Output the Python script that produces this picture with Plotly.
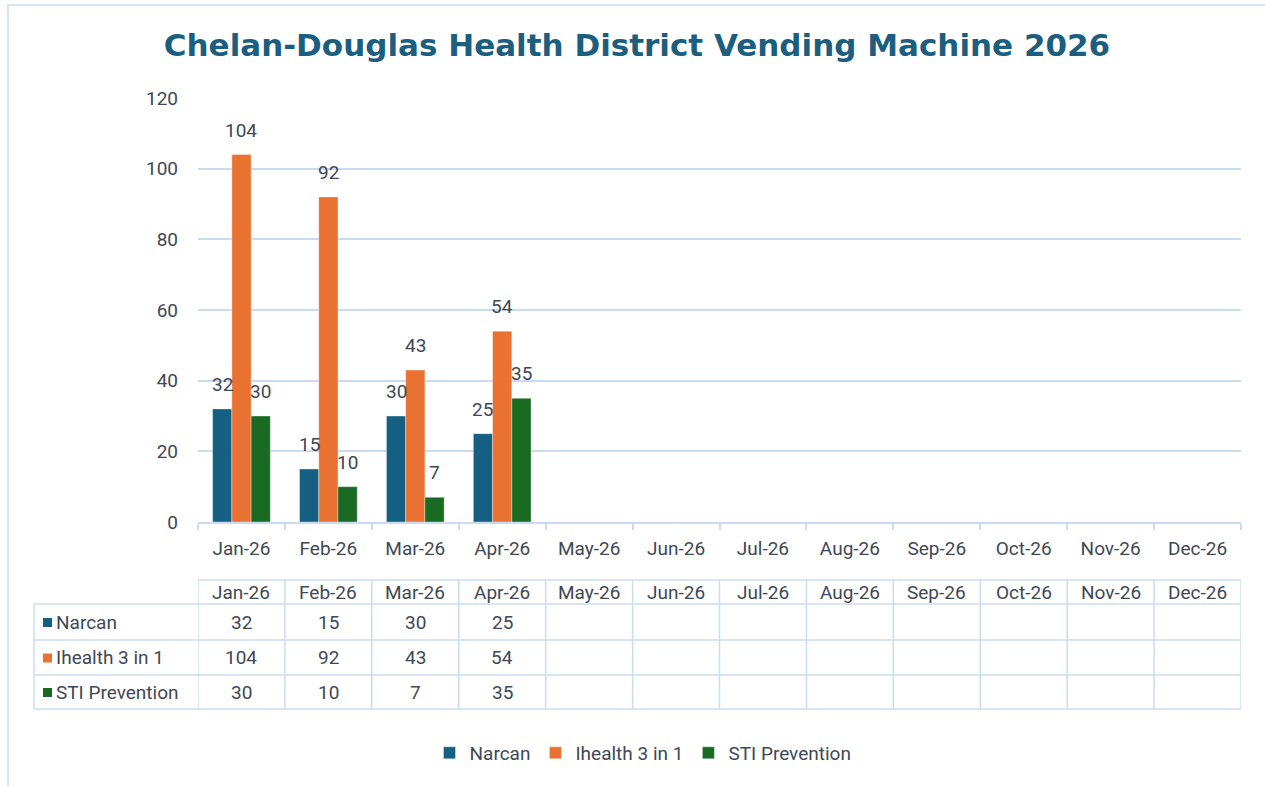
import plotly.graph_objects as go

# ---------------- data ----------------
months = ["Jan-26", "Feb-26", "Mar-26", "Apr-26", "May-26", "Jun-26",
          "Jul-26", "Aug-26", "Sep-26", "Oct-26", "Nov-26", "Dec-26"]
narcan = [32, 15, 30, 25, None, None, None, None, None, None, None, None]
ihealth = [104, 92, 43, 54, None, None, None, None, None, None, None, None]
sti = [30, 10, 7, 35, None, None, None, None, None, None, None, None]
series_names = ["Narcan", "Ihealth 3 in 1", "STI Prevention"]
title_text = "Chelan-Douglas Health District Vending Machine 2026"

# ---------------- style ----------------
W, H = 1265, 787
ML, MR, MT, MB = 198, 24, 98, 265
PW, PH = W - ML - MR, H - MT - MB
colors = ["#156082", "#E97132", "#196B24"]
txt = "#404855"
grid = "#CADCF1"
FONT = "Roboto"
FS = 19
BARGAP = 0.336


def px_x(px):
    return (px - ML) / PW


def px_y(py):
    return (H - MB - py) / PH


series = [narcan, ihealth, sti]
fig = go.Figure()
for name, vals, col in zip(series_names, series, colors):
    fig.add_trace(go.Bar(
        x=months, y=vals, name=name,
        marker=dict(color=col, line=dict(width=0.6, color="rgba(255,255,255,0.6)")),
    ))

shapes = []
ann = []

# data labels above bars
cat_w = PW / len(months)
bar_w = cat_w * (1 - BARGAP) / len(series)
for i, vals in enumerate(series):
    for m, v in zip(months, vals):
        if v is None:
            continue
        ann.append(dict(x=m, y=v, xref="x", yref="y", text=str(v), showarrow=False,
                        xanchor="center", yanchor="bottom", yshift=11, xshift=(i - 1) * bar_w,
                        font=dict(family=FONT, size=FS, color=txt)))

# chart outer border
shapes.append(dict(type="rect", xref="paper", yref="paper",
                   x0=px_x(8), x1=px_x(1275), y0=px_y(797), y1=px_y(5),
                   line=dict(color=grid, width=1.5), fillcolor="rgba(0,0,0,0)", layer="below"))

# data table
hdr_top, r0, r1, r2, r3 = 580, 604, 640, 675, 709
lab_left = 34
shapes.append(dict(type="line", xref="paper", yref="paper", x0=px_x(ML), x1=px_x(ML + PW),
                   y0=px_y(hdr_top), y1=px_y(hdr_top), line=dict(color=grid, width=1.5)))
for py in [r0, r1, r2, r3]:
    shapes.append(dict(type="line", xref="paper", yref="paper", x0=px_x(lab_left), x1=px_x(ML + PW),
                       y0=px_y(py), y1=px_y(py), line=dict(color=grid, width=1.5)))
for k in range(len(months) + 1):
    shapes.append(dict(type="line", xref="x", yref="paper", x0=k - 0.5, x1=k - 0.5,
                       y0=px_y(hdr_top), y1=px_y(r3), line=dict(color=grid, width=1.5)))
shapes.append(dict(type="line", xref="paper", yref="paper", x0=px_x(lab_left), x1=px_x(lab_left),
                   y0=px_y(r0), y1=px_y(r3), line=dict(color=grid, width=1.5)))

hdr_c = (hdr_top + r0) / 2
row_c = [(r0 + r1) / 2, (r1 + r2) / 2, (r2 + r3) / 2]
for m in months:
    ann.append(dict(x=m, y=px_y(hdr_c), xref="x", yref="paper", text=m, showarrow=False,
                    xanchor="center", yanchor="middle",
                    font=dict(family=FONT, size=FS, color=txt)))
for i, (name, vals, col) in enumerate(zip(series_names, series, colors)):
    # legend key square in the table
    shapes.append(dict(type="rect", xref="paper", yref="paper",
                       x0=px_x(43), x1=px_x(52), y0=px_y(row_c[i] + 5), y1=px_y(row_c[i] - 4),
                       fillcolor=col, line=dict(width=0)))
    ann.append(dict(x=px_x(54), y=px_y(row_c[i]), xref="paper", yref="paper",
                    xanchor="left", yanchor="middle", showarrow=False, text=name,
                    font=dict(family=FONT, size=FS, color=txt)))
    for m, v in zip(months, vals):
        if v is None:
            continue
        ann.append(dict(x=m, y=px_y(row_c[i]), xref="x", yref="paper", text=str(v), showarrow=False,
                        xanchor="center", yanchor="middle",
                        font=dict(family=FONT, size=FS, color=txt)))

fig.update_layout(
    width=W, height=H,
    margin=dict(l=ML, r=MR, t=MT, b=MB, autoexpand=False),
    paper_bgcolor="white", plot_bgcolor="white",
    barmode="group", bargap=BARGAP, bargroupgap=0,
    title=dict(text=f"<b>{title_text}</b>", x=px_x(637), xanchor="center",
               y=1 - 45 / H, yanchor="middle", xref="paper",
               font=dict(family="DejaVu Sans", size=31, color="#1B5E80")),
    font=dict(family=FONT, size=FS, color=txt),
    xaxis=dict(showgrid=False, showline=True, linecolor=grid, linewidth=1.5,
               ticks="outside", tickson="boundaries", ticklen=6, tickcolor=grid, tickwidth=1.5,
               tickfont=dict(family=FONT, size=FS, color=txt), ticklabelstandoff=8,
               range=[-0.5, 11.5], fixedrange=True),
    yaxis=dict(range=[0, 120], dtick=20, showgrid=True, gridcolor=grid, gridwidth=1.5,
               zeroline=False, showline=False, ticks="",
               tickfont=dict(family=FONT, size=FS, color=txt), ticklabelstandoff=19,
               fixedrange=True),
    legend=dict(orientation="h", x=px_x(643), xanchor="center", y=px_y(753), yanchor="middle",
                font=dict(family=FONT, size=FS, color=txt), itemwidth=30, traceorder="normal"),
    shapes=shapes, annotations=ann,
)

fig.write_html("out.html", config={"displayModeBar": False},
               post_script="document.body.style.margin='0px';")
